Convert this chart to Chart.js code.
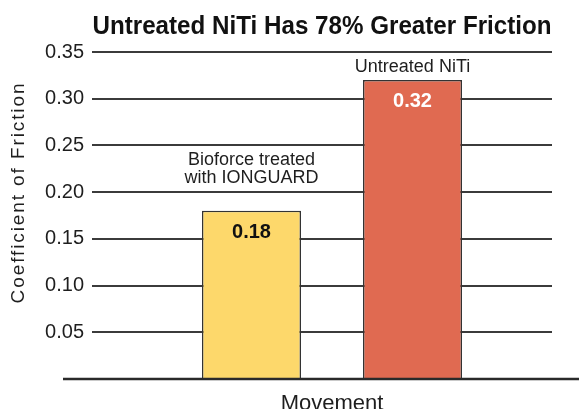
<!DOCTYPE html>
<html>
<head>
<meta charset="utf-8">
<script src="https://cdn.jsdelivr.net/npm/chart.js@4"></script>
<style>
  html, body { margin: 0; padding: 0; background: #fff; }
  #frictionChart { display: block; }
</style>
</head>
<body>
<canvas id="frictionChart" width="579" height="409"></canvas>
<script>
// data
const categories = ['Movement'];
const seriesNames = ['Bioforce treated with IONGUARD', 'Untreated NiTi'];
const seriesLabelLines = [['Bioforce treated', 'with IONGUARD'], ['Untreated NiTi']];
const seriesValues = [0.18, 0.32];
const yMin = 0, yMax = 0.35, yStep = 0.05;

const chartTitle = 'Untreated NiTi Has 78% Greater Friction';
const yTitle = 'Coefficient of Friction';

// styles
const barColors = ['#fdd86b', '#e06a51'];
const valueColors = ['#111111', '#ffffff'];
const nameGap = [28, 8];   // space between series name and bar top
const gridColor = '#3b3b3b';
const textColor = '#1e1e1e';
const FONT = '"Liberation Sans", Arial, Helvetica, sans-serif';
Chart.defaults.font.family = FONT;
Chart.defaults.color = textColor;

const datasets = seriesValues.map(function(v, i) {
  return {
    label: seriesNames[i],
    data: [v],
    backgroundColor: barColors[i],
    borderColor: '#333333',
    borderWidth: 1.5,
    categoryPercentage: 0.732,
    barPercentage: 0.615
  };
});

const decorations = {
  id: 'decorations',
  afterDatasetsDraw(chart) {
    const ctx = chart.ctx;
    const area = chart.chartArea;
    const y = chart.scales.y;
    const tickLen = chart.options.scales.y.grid.tickLength;

    // baseline
    ctx.save();
    ctx.strokeStyle = '#2a2a2a';
    ctx.lineWidth = 2.5;
    ctx.beginPath();
    ctx.moveTo(63, y.getPixelForValue(0));
    ctx.lineTo(chart.width, y.getPixelForValue(0));
    ctx.stroke();

    // chart title
    ctx.fillStyle = '#111';
    ctx.textAlign = 'center';
    ctx.textBaseline = 'alphabetic';
    ctx.font = 'bold 26px ' + FONT;
    ctx.save();
    ctx.translate((area.left - tickLen + area.right) / 2, 34);
    ctx.scale(0.93, 1);
    ctx.fillText(chartTitle, 0, 0);
    ctx.restore();

    // y axis title
    ctx.save();
    ctx.font = '19px ' + FONT;
    ctx.fillStyle = textColor;
    ctx.letterSpacing = '1.9px';
    ctx.translate(24, 192.5);
    ctx.rotate(-Math.PI / 2);
    ctx.fillText(yTitle, 0, 0);
    ctx.restore();

    // bar labels
    chart.data.datasets.forEach(function(ds, i) {
      const bar = chart.getDatasetMeta(i).data[0];
      ctx.font = 'bold 20px ' + FONT;
      ctx.fillStyle = valueColors[i];
      ctx.fillText(ds.data[0].toFixed(2), bar.x, bar.y + 27);

      const lines = seriesLabelLines[i];
      ctx.font = '18px ' + FONT;
      ctx.fillStyle = textColor;
      lines.forEach(function(line, k) {
        const offset = (lines.length - 1 - k) * 18;
        ctx.fillText(line, bar.x, bar.y - nameGap[i] - offset);
      });
    });
    ctx.restore();
  }
};

const ctx = document.getElementById('frictionChart');
const myChart = new Chart(ctx, {
  type: 'bar',
  data: { labels: categories, datasets: datasets },
  options: {
    responsive: false,
    animation: false,
    devicePixelRatio: 1,
    layout: { padding: { top: 52, right: 27, left: 0, bottom: 0 } },
    plugins: {
      legend: { display: false },
      tooltip: { enabled: false }
    },
    scales: {
      x: {
        grid: { display: false, drawTicks: false },
        border: { display: false },
        ticks: { display: false },
        title: {
          display: true,
          text: categories[0],
          color: textColor,
          font: { size: 22, lineHeight: 0.5 },
          padding: { top: 19, bottom: 0 }
        }
      },
      y: {
        min: yMin,
        max: yMax,
        border: { display: false },
        grid: {
          color: function(c) { return c.tick.value === 0 ? 'rgba(0,0,0,0)' : gridColor; },
          lineWidth: 2,
          drawTicks: true,
          tickLength: 20
        },
        ticks: {
          stepSize: yStep,
          padding: 8,
          color: textColor,
          font: { size: 20 },
          callback: function(v) { return v === 0 ? '' : v.toFixed(2); }
        },
        afterFit: function(scale) { scale.width = 112; }
      }
    }
  },
  plugins: [decorations]
});
</script>
</body>
</html>
